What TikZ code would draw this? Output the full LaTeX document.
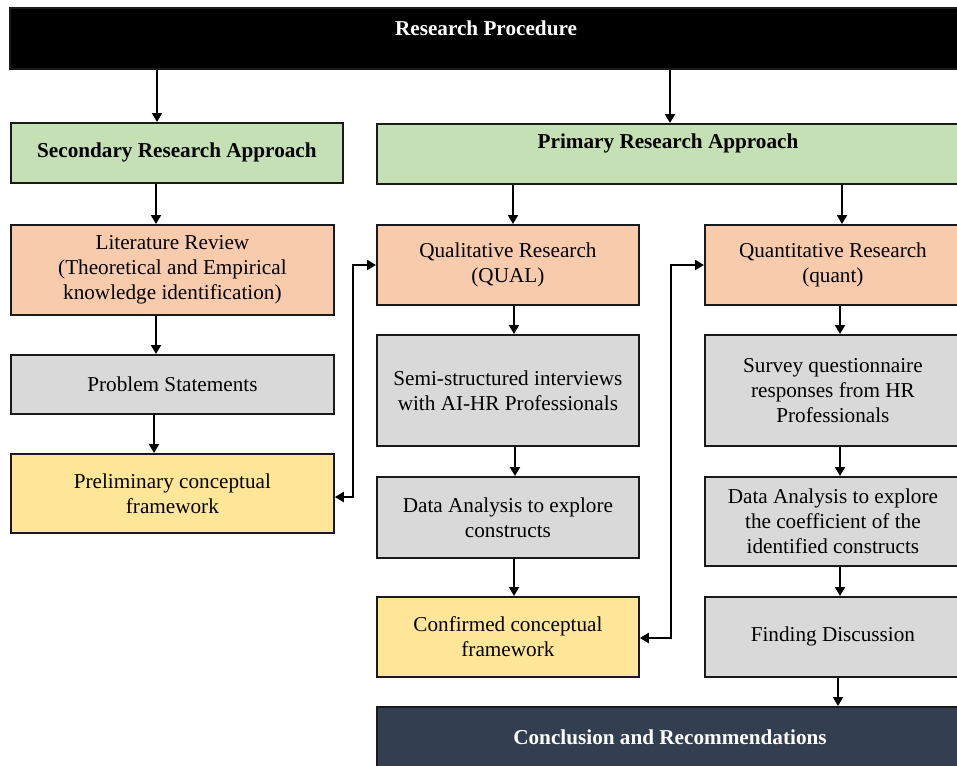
\documentclass[tikz,border=0pt]{standalone}
\usepackage{fontspec}
\setmainfont{Liberation Serif}
\usetikzlibrary{arrows.meta}

\definecolor{hdgreen}{HTML}{C5E0B4}
\definecolor{hdorange}{HTML}{F8CBAD}
\definecolor{hdgrey}{HTML}{D9D9D9}
\definecolor{hdyellow}{HTML}{FFE699}
\definecolor{hdnavy}{HTML}{333F50}
\definecolor{edgeink}{HTML}{1A1A1A}

\begin{document}
\begin{tikzpicture}[x=1pt,y=-1pt,
  box/.style={draw=edgeink, line width=1.8pt, anchor=north west, inner sep=0pt,
    align=center, font=\fontsize{21.2}{25.2}\selectfont},
  banner/.style={text=white, font=\fontsize{21.2}{25.2}\selectfont\bfseries},
  headtxt/.style={font=\fontsize{21.2}{25.2}\selectfont\bfseries},
  tipshape/.tip={Triangle[length=9pt,width=10pt]},
  flow/.style={draw=black, line width=2pt, -tipshape},
  twoway/.style={draw=black, line width=2pt, tipshape-tipshape},
]
\useasboundingbox (0,0) rectangle (957,765);

% top banner
\node[box, fill=black, minimum width=954pt, minimum height=61pt] (top) at (9,7) {};
\node[banner] (top-t) at (486,28) {Research Procedure};

% approaches
\node[box, fill=hdgreen, minimum width=332pt, minimum height=60pt] (sec) at (10,122)
  {\bfseries Secondary Research Approach};
\node[box, fill=hdgreen, minimum width=584pt, minimum height=60pt] (prim) at (376,123) {};
\node[headtxt] (prim-t) at (668,143) {Primary Research Approach};

% secondary branch
\node[box, fill=hdorange, minimum width=323pt, minimum height=90pt] (lit) at (10,224)
  {Literature Review\\(Theoretical and Empirical\\knowledge identification)};
\node[box, fill=hdgrey, minimum width=323pt, minimum height=59pt] (prob) at (10,354)
  {Problem Statements};
\node[box, fill=hdyellow, minimum width=323pt, minimum height=79pt] (prelim) at (10,453)
  {Preliminary conceptual\\framework};

% qualitative branch
\node[box, fill=hdorange, minimum width=262pt, minimum height=80pt] (qual) at (376,224)
  {Qualitative Research\\(QUAL)};
\node[box, fill=hdgrey, minimum width=262pt, minimum height=111pt] (semi) at (376,334)
  {Semi-structured interviews\\with AI-HR Professionals};
\node[box, fill=hdgrey, minimum width=262pt, minimum height=81pt] (daqual) at (376,476)
  {Data Analysis to explore\\constructs};
\node[box, fill=hdyellow, minimum width=262pt, minimum height=80pt] (conf) at (376,596)
  {Confirmed conceptual\\framework};

% quantitative branch
\node[box, fill=hdorange, minimum width=256pt, minimum height=80pt] (quant) at (704,224)
  {Quantitative Research\\(quant)};
\node[box, fill=hdgrey, minimum width=256pt, minimum height=111pt] (survey) at (704,334)
  {Survey questionnaire\\responses from HR\\Professionals};
\node[box, fill=hdgrey, minimum width=256pt, minimum height=89pt] (daquant) at (704,476)
  {Data Analysis to explore\\the coefficient of the\\identified constructs};
\node[box, fill=hdgrey, minimum width=256pt, minimum height=80pt] (find) at (704,596)
  {Finding Discussion};

% conclusion
\node[box, fill=hdnavy, minimum width=586pt, minimum height=72pt] (concl) at (376,706) {};
\node[banner] (concl-t) at (670,737) {Conclusion and Recommendations};

% connectors
\draw[flow] (157,0 |- top.south) -- (157,0 |- sec.north);
\draw[flow] (670,0 |- top.south) -- (670,0 |- prim.north);
\draw[flow] (156,0 |- sec.south) -- (156,0 |- lit.north);
\draw[flow] (156,0 |- lit.south) -- (156,0 |- prob.north);
\draw[flow] (154,0 |- prob.south) -- (154,0 |- prelim.north);

\draw[flow] (513,0 |- prim.south) -- (513,0 |- qual.north);
\draw[flow] (514,0 |- qual.south) -- (514,0 |- semi.north);
\draw[flow] (515,0 |- semi.south) -- (515,0 |- daqual.north);
\draw[flow] (514,0 |- daqual.south) -- (514,0 |- conf.north);

\draw[flow] (842,0 |- prim.south) -- (842,0 |- quant.north);
\draw[flow] (840,0 |- quant.south) -- (840,0 |- survey.north);
\draw[flow] (840,0 |- survey.south) -- (840,0 |- daquant.north);
\draw[flow] (840,0 |- daquant.south) -- (840,0 |- find.north);
\draw[flow] (838,0 |- find.south) -- (838,0 |- concl.north);

\draw[twoway] (prelim.east |- 0,497) -- (353,497) -- (353,265) -- (qual.west |- 0,265);
\draw[twoway] (conf.east |- 0,638) -- (671,638) -- (671,265) -- (quant.west |- 0,265);
\end{tikzpicture}
\end{document}
